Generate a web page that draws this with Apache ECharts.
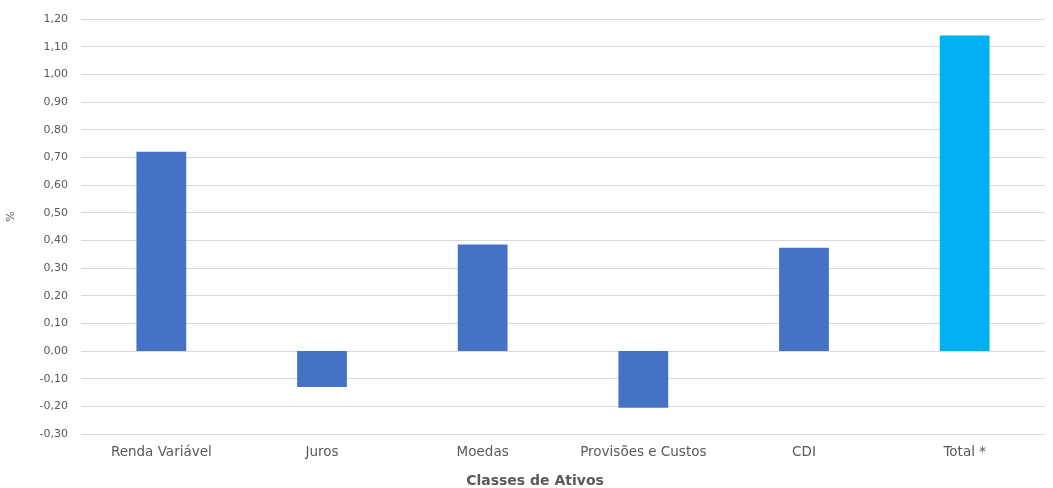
<!DOCTYPE html>
<html><head><meta charset="utf-8">
<script src="https://cdn.jsdelivr.net/npm/echarts@6/dist/echarts.min.js"></script>
<style>html,body{margin:0;padding:0;background:#fff}#c{width:1053px;height:488px}</style>
</head><body><div id="c"></div>
<script>
const categories = ['Renda Variável','Juros','Moedas','Provisões e Custos','CDI','Total *'];
const values = [0.72, -0.13, 0.385, -0.205, 0.373, 1.14];
const barColors = ['#4472C4','#4472C4','#4472C4','#4472C4','#4472C4','#00B0F0'];
const chart = echarts.init(document.getElementById('c'));
chart.setOption({
  animation:false,
  grid:{left:81,right:8,top:19,bottom:54,containLabel:false,outerBoundsMode:'none'},
  xAxis:{type:'category',data:categories,
    name:'Classes de Ativos',nameLocation:'middle',nameGap:40,
    nameTextStyle:{fontFamily:'DejaVu Sans',fontWeight:'bold',fontSize:14,color:'#595959',padding:[0,56,0,0]},
    axisLine:{show:false},axisTick:{show:false},
    axisLabel:{interval:0,hideOverlap:false,fontFamily:'DejaVu Sans',fontSize:13.5,color:'#595959',margin:11}},
  yAxis:{type:'value',min:-0.3,max:1.2,interval:0.1,
    name:'%',nameLocation:'middle',nameGap:64,nameRotate:90,
    nameTextStyle:{fontFamily:'DejaVu Sans',fontSize:11,color:'#595959',padding:[0,0,0,20]},
    axisLabel:{fontFamily:'DejaVu Sans',fontSize:11,color:'#595959',margin:13,
      formatter:v=>v.toFixed(2).replace('.',',')},
    splitLine:{lineStyle:{color:'#D9D9D9',width:1}},
    axisLine:{show:false},axisTick:{show:false}},
  series:[{type:'bar',barWidth:'31%',
    data:values.map((v,i)=>({value:v,itemStyle:{color:barColors[i]}}))}]
});
</script></body></html>
